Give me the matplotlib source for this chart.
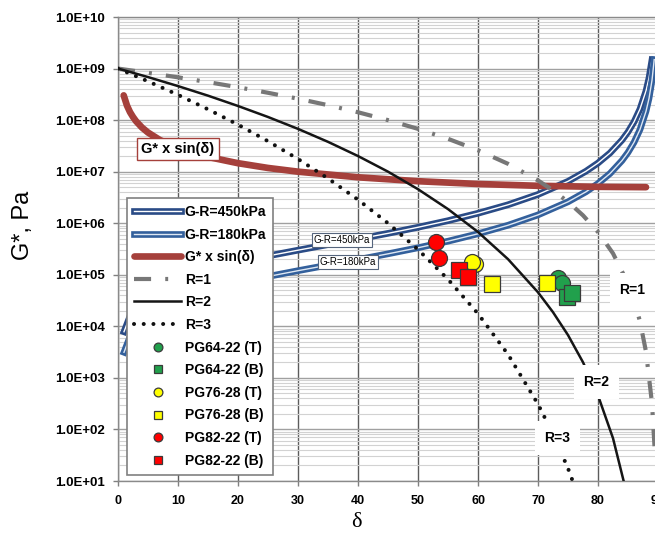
import matplotlib
matplotlib.use('Agg')
import matplotlib.pyplot as plt
import matplotlib.patheffects as pe
from matplotlib.ticker import LogLocator, NullFormatter

plt.rcParams['font.family'] = ['Liberation Sans', 'DejaVu Sans']

# ---- 数据 ----
x_ticks = [0, 10, 20, 30, 40, 50, 60, 70, 80, 90]
y_ticks = [1e1, 1e2, 1e3, 1e4, 1e5, 1e6, 1e7, 1e8, 1e9, 1e10]
y_tick_labels = ['1.0E+01', '1.0E+02', '1.0E+03', '1.0E+04', '1.0E+05',
                 '1.0E+06', '1.0E+07', '1.0E+08', '1.0E+09', '1.0E+10']

# R = 1 / 2 / 3 curves
r1_delta = [0, 5, 10, 15, 20, 25, 30, 35, 40, 45, 50, 55, 60, 65, 70, 72.5, 75,
            77.5, 80, 82.5, 85, 86, 87, 88, 89, 89.5]
r1_g = [1.0e9, 8.27e8, 6.76e8, 5.46e8, 4.34e8, 3.39e8, 2.60e8, 1.95e8, 1.42e8,
        1.0e8, 6.76e7, 4.34e7, 2.60e7, 1.42e7, 6.76e6, 4.34e6, 2.60e6, 1.42e6,
        6.76e5, 2.60e5, 6.76e4, 3.22e4, 1.24e4, 3.22e3, 3.22e2, 32.2]

r2_delta = [0, 5, 10, 15, 20, 25, 30, 35, 40, 45, 50, 55, 60, 65, 70, 72.5, 75,
            77.5, 80, 82.5, 85]
r2_g = [1.0e9, 6.84e8, 4.57e8, 2.98e8, 1.88e8, 1.15e8, 6.76e7, 3.79e7, 2.01e7,
        1.0e7, 4.57e6, 1.88e6, 6.76e5, 2.01e5, 4.57e4, 1.88e4, 6.76e3, 2.01e3,
        4.57e2, 67.6, 4.57]

r3_delta = [0, 5, 10, 15, 20, 25, 30, 35, 40, 45, 50, 55, 60, 65, 70, 72.5, 75, 77.5]
r3_g = [1.0e9, 5.66e8, 3.09e8, 1.62e8, 8.17e7, 3.90e7, 1.76e7, 7.39e6, 2.86e6,
        1.0e6, 3.09e5, 8.17e4, 1.76e4, 2.86e3, 3.09e2, 81.7, 17.6, 2.86]

# G* x sin(delta)
gs_delta = [0.95, 1.5, 2, 2.5, 3, 4, 5, 7, 10, 15, 20, 25, 30, 40, 50, 60, 70, 80, 88]
gs_g = [3.02e8, 1.91e8, 1.43e8, 1.15e8, 9.55e7, 7.17e7, 5.74e7, 4.10e7, 2.88e7,
        1.93e7, 1.46e7, 1.18e7, 1.0e7, 7.78e6, 6.53e6, 5.77e6, 5.32e6, 5.08e6, 5.0e6]

# Glover-Rowe curves
gr450_delta = [1, 2, 3, 5, 7.5, 10, 15, 20, 25, 30, 35, 40, 45, 50, 55, 60, 65, 70,
               75, 78, 80, 82, 84, 85, 86, 87, 88, 88.5, 89]
gr450_g = [7.86e3, 1.57e4, 2.36e4, 3.95e4, 5.98e4, 8.06e4, 1.25e5, 1.74e5, 2.32e5,
           3.0e5, 3.85e5, 4.93e5, 6.36e5, 8.34e5, 1.12e6, 1.56e6, 2.28e6, 3.61e6,
           6.49e6, 1.02e7, 1.47e7, 2.30e7, 4.10e7, 5.90e7, 9.22e7, 1.64e8, 3.69e8,
           6.57e8, 1.48e9]
gr180_delta = [1, 2, 3, 5, 7.5, 10, 15, 20, 25, 30, 35, 40, 45, 50, 55, 60, 65, 70,
               75, 78, 80, 82, 84, 85, 86, 87, 88, 88.5, 89, 89.37]
gr180_g = [3.14e3, 6.29e3, 9.45e3, 1.58e4, 2.39e4, 3.22e4, 4.99e4, 6.97e4, 9.26e4,
           1.2e5, 1.54e5, 1.97e5, 2.55e5, 3.34e5, 4.48e5, 6.24e5, 9.13e5, 1.45e6,
           2.60e6, 4.07e6, 5.88e6, 9.20e6, 1.64e7, 2.36e7, 3.69e7, 6.56e7, 1.48e8,
           2.63e8, 5.91e8, 1.49e9]

# binder test points
pg64_t_delta = [73.4, 73.95]
pg64_t_g = [8.5e4, 6.8e4]
pg64_b_delta = [74.8, 75.6]
pg64_b_g = [3.75e4, 4.4e4]
pg76_t_delta = [59.5, 58.95]
pg76_t_g = [1.6e5, 1.8e5]
pg76_b_delta = [62.4, 71.45]
pg76_b_g = [6.5e4, 6.8e4]
pg82_t_delta = [53.0, 53.55]
pg82_t_g = [4.4e5, 2.1e5]
pg82_b_delta = [56.9, 58.4]
pg82_b_g = [1.24e5, 9.2e4]

# ---- 画布 ----
fig = plt.figure(figsize=(6.55, 5.35), dpi=100)
ax = fig.add_axes([118 / 655, 54 / 535, 540 / 655, 464 / 535])
ax.set_yscale('log')
ax.set_xlim(0, 90)
ax.set_ylim(1e1, 1e10)

# 网格
ax.set_axisbelow(True)
ax.yaxis.set_minor_locator(LogLocator(base=10, subs=range(2, 10), numticks=30))
ax.yaxis.set_minor_formatter(NullFormatter())
ax.grid(True, which='major', axis='x', color='#5c5c5c', lw=1.0)
ax.grid(True, which='major', axis='y', color='#a0a0a0', lw=1.0)
ax.grid(True, which='minor', axis='y', color='#d2d2d2', lw=0.8)

# 曲线
blue_450 = '#2a4b86'
blue_180 = '#33609c'
dark_red = '#a5403b'

ax.plot(gr450_delta, gr450_g, color='white', lw=1.0, label='G-R=450kPa', zorder=3,
        path_effects=[pe.Stroke(linewidth=4.8, foreground=blue_450), pe.Normal()])
ax.plot(gr180_delta, gr180_g, color='#dfe8f3', lw=1.0, label='G-R=180kPa', zorder=3,
        path_effects=[pe.Stroke(linewidth=4.8, foreground=blue_180), pe.Normal()])
ax.plot(gs_delta, gs_g, color=dark_red, lw=4.8, label='G* x sin(δ)', zorder=3,
        solid_capstyle='round')
ax.plot(r1_delta, r1_g, color='#777777', lw=3.0, linestyle=(0, (4.1, 3.4, 0.7, 3.4)),
        label='R=1', zorder=3)
ax.plot(r2_delta, r2_g, color='#151515', lw=1.8, label='R=2', zorder=3)
ax.plot(r3_delta, r3_g, color='#111111', lw=2.9, linestyle=(0, (0.01, 2.4)),
        dash_capstyle='round', label='R=3', zorder=3)

# 数据点
mk = dict(linestyle='none', markersize=11.5, markeredgecolor='#3a3a3a',
          markeredgewidth=0.9, zorder=5)
ax.plot(pg64_t_delta, pg64_t_g, marker='o', color='#21a04c', label='PG64-22 (T)', **mk)
ax.plot(pg64_b_delta, pg64_b_g, marker='s', color='#21a04c', label='PG64-22 (B)', **mk)
ax.plot(pg76_t_delta, pg76_t_g, marker='o', color='#ffff00', label='PG76-28 (T)', **mk)
ax.plot(pg76_b_delta, pg76_b_g, marker='s', color='#ffff00', label='PG76-28 (B)', **mk)
ax.plot(pg82_t_delta, pg82_t_g, marker='o', color='#ff0000', label='PG82-22 (T)', **mk)
ax.plot(pg82_b_delta, pg82_b_g, marker='s', color='#ff0000', label='PG82-22 (B)', **mk)

# 标注
ax.text(10, 2.75e7, 'G* x sin(δ)', ha='center', va='center', fontsize=10.5,
        fontweight='bold', zorder=6,
        bbox=dict(boxstyle='square,pad=0.3', fc='white', ec=dark_red, lw=1.0))
small_box = dict(boxstyle='square,pad=0.2', fc='white', ec='#55657d', lw=0.8)
ax.text(37.33, 4.8e5, 'G-R=450kPa', ha='center', va='center', fontsize=7,
        zorder=6, bbox=small_box)
ax.text(38.3, 1.8e5, 'G-R=180kPa', ha='center', va='center', fontsize=7,
        zorder=6, bbox=small_box)
r_box = dict(boxstyle='square,pad=0.7', fc='white', ec='none')
ax.text(85.75, 5.1e4, 'R=1', ha='center', va='center', fontsize=10,
        fontweight='bold', zorder=6, bbox=r_box)
ax.text(79.75, 8.3e2, 'R=2', ha='center', va='center', fontsize=10,
        fontweight='bold', zorder=6, bbox=r_box)
ax.text(73.25, 68, 'R=3', ha='center', va='center', fontsize=10,
        fontweight='bold', zorder=6, bbox=r_box)

# 坐标轴
ax.set_xticks(x_ticks)
ax.set_xticklabels([str(v) for v in x_ticks], fontsize=9, fontweight='bold')
ax.set_yticks(y_ticks)
ax.set_yticklabels(y_tick_labels, fontsize=9.5, fontweight='bold')
ax.tick_params(axis='both', which='major', length=3.6, width=1.0, color='#808080')
ax.tick_params(axis='x', pad=6.5)
ax.tick_params(axis='y', pad=6)
ax.tick_params(axis='y', which='minor', length=0)
for s in ax.spines.values():
    s.set_color('#8a8a8a')
    s.set_linewidth(1.0)

ax.set_ylabel('G*, Pa', fontsize=17)
ax.yaxis.set_label_coords(-0.156, 0.55)
ax.set_xlabel('δ', fontsize=16, fontfamily=['Liberation Serif', 'DejaVu Serif'])
ax.xaxis.set_label_coords((356 - 118) / 540, -0.070)

# 图例
leg = ax.legend(loc='upper left', bbox_to_anchor=(0.0167, 0.610), borderaxespad=0,
                frameon=True, fancybox=False, edgecolor='#808080', framealpha=1,
                prop={'weight': 'bold', 'size': 10}, labelspacing=0.62,
                handlelength=3.4, handletextpad=0.25, borderpad=0.5, markerscale=0.55)
leg.get_frame().set_linewidth(1.2)
leg.set_zorder(10)

fig.savefig('out.png', dpi=100, facecolor='white')
